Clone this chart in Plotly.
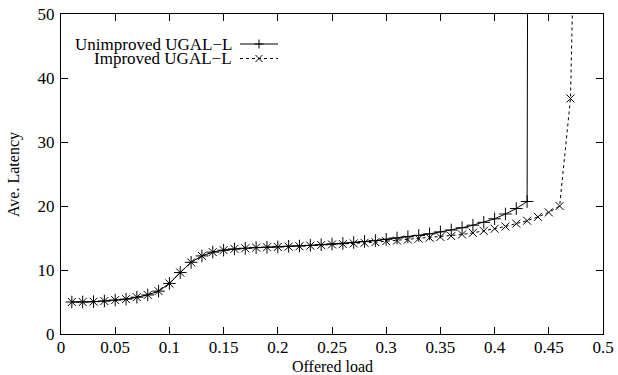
import plotly.graph_objects as go

x_unimp = [round(0.01 * i, 2) for i in range(1, 45)]
y_unimp = [5.0, 5.0, 5.05, 5.15, 5.3, 5.45, 5.75, 6.1, 6.7, 7.9,
           9.6, 11.2, 12.2, 12.8, 13.1, 13.3, 13.4, 13.5, 13.55, 13.6,
           13.7, 13.75, 13.85, 13.95, 14.05, 14.15, 14.3, 14.45, 14.6, 14.8,
           15.0, 15.2, 15.4, 15.65, 15.95, 16.25, 16.6, 17.0, 17.45, 18.0,
           18.75, 19.6, 20.7, 800.0]

x_imp = [round(0.01 * i, 2) for i in range(1, 49)]
y_imp = [5.0, 5.0, 5.05, 5.15, 5.3, 5.45, 5.75, 6.1, 6.7, 7.9,
         9.6, 11.2, 12.2, 12.8, 13.1, 13.3, 13.4, 13.5, 13.55, 13.6,
         13.65, 13.7, 13.8, 13.9, 14.0, 14.05, 14.15, 14.25, 14.35, 14.5,
         14.6, 14.75, 14.9, 15.05, 15.15, 15.3, 15.55, 15.8, 16.1, 16.45,
         16.8, 17.25, 17.7, 18.3, 19.0, 20.0, 36.8, 114.0]

x_ticks = [0, 0.05, 0.1, 0.15, 0.2, 0.25, 0.3, 0.35, 0.4, 0.45, 0.5]
x_tick_labels = ["0", "0.05", "0.1", "0.15", "0.2", "0.25", "0.3", "0.35", "0.4", "0.45", "0.5"]
y_ticks = [0, 10, 20, 30, 40, 50]

names = ["Unimproved UGAL\u2212L", "Improved UGAL\u2212L"]
x_title = "Offered load"
y_title = "Ave. Latency"

FONT = "Liberation Serif, Times New Roman, serif"
FS = 17
fig = go.Figure()

fig.add_trace(go.Scatter(
    x=x_unimp, y=y_unimp, mode="lines+markers", name=names[0],
    line=dict(color="black", width=1),
    marker=dict(symbol="cross-thin-open", size=9, line=dict(color="black", width=1)),
    showlegend=False, cliponaxis=True, hoverinfo="skip"))

fig.add_trace(go.Scatter(
    x=x_imp, y=y_imp, mode="lines+markers", name=names[1],
    line=dict(color="black", width=1, dash="dot"),
    marker=dict(symbol="x-thin-open", size=8, line=dict(color="black", width=1)),
    showlegend=False, cliponaxis=True, hoverinfo="skip"))

axis_common = dict(
    showline=True, linecolor="black", linewidth=1, mirror="ticks",
    ticks="inside", ticklen=7, tickwidth=1, tickcolor="black",
    showgrid=False, zeroline=False, automargin=False,
    tickfont=dict(family=FONT, size=FS, color="black"),
)

fig.update_xaxes(range=[0, 0.5], tickvals=x_ticks, ticktext=x_tick_labels,
                 ticklabelstandoff=-2, **axis_common)
fig.update_yaxes(range=[0, 50], tickvals=y_ticks, ticklabelstandoff=2, **axis_common)

W, H = 618, 375
ml, mr, mt, mb = 61, 15, 14, 41
pw, ph = W - ml - mr, H - mt - mb

def px(xp):
    return (xp - ml) / pw

def py(yp):
    return 1 - (yp - mt) / ph

shapes = []
annotations = [
    dict(x=px(332), y=py(366), xref="paper", yref="paper", text=x_title,
         showarrow=False, xanchor="center", yanchor="middle",
         font=dict(family=FONT, size=16, color="black")),
    dict(x=px(14), y=py(175), xref="paper", yref="paper", text=y_title,
         showarrow=False, xanchor="center", yanchor="middle", textangle=-90,
         font=dict(family=FONT, size=16, color="black")),
]

# gnuplot-style key: text right-aligned, sample to the right
key_rows = [44, 58.5]
for i, (name, yr) in enumerate(zip(names, key_rows)):
    annotations.append(dict(
        x=px(234), y=py(yr), xref="paper", yref="paper", text=name,
        showarrow=False, xanchor="right", yanchor="middle",
        font=dict(family=FONT, size=FS, color="black")))
    shapes.append(dict(type="line", xref="paper", yref="paper",
                       x0=px(240), x1=px(278), y0=py(yr), y1=py(yr),
                       line=dict(color="black", width=1, dash="solid" if i == 0 else "dot")))
    cx, cy = 259, yr
    if i == 0:
        segs = [((cx, cy - 4.5), (cx, cy + 4.5)), ((cx - 4.5, cy), (cx + 4.5, cy))]
    else:
        segs = [((cx - 3.5, cy - 3.5), (cx + 3.5, cy + 3.5)), ((cx - 3.5, cy + 3.5), (cx + 3.5, cy - 3.5))]
    for (a, b) in segs:
        shapes.append(dict(type="line", xref="paper", yref="paper",
                           x0=px(a[0]), y0=py(a[1]), x1=px(b[0]), y1=py(b[1]),
                           line=dict(color="black", width=1)))

fig.update_layout(
    width=W, height=H,
    margin=dict(l=ml, r=mr, t=mt, b=mb),
    plot_bgcolor="white", paper_bgcolor="white",
    font=dict(family=FONT, color="black"),
    shapes=shapes, annotations=annotations,
    showlegend=False, hovermode=False,
)

fig.write_html("out.html", config={"displayModeBar": False, "staticPlot": True},
               post_script="document.body.style.margin='0';document.body.style.overflow='hidden';")
